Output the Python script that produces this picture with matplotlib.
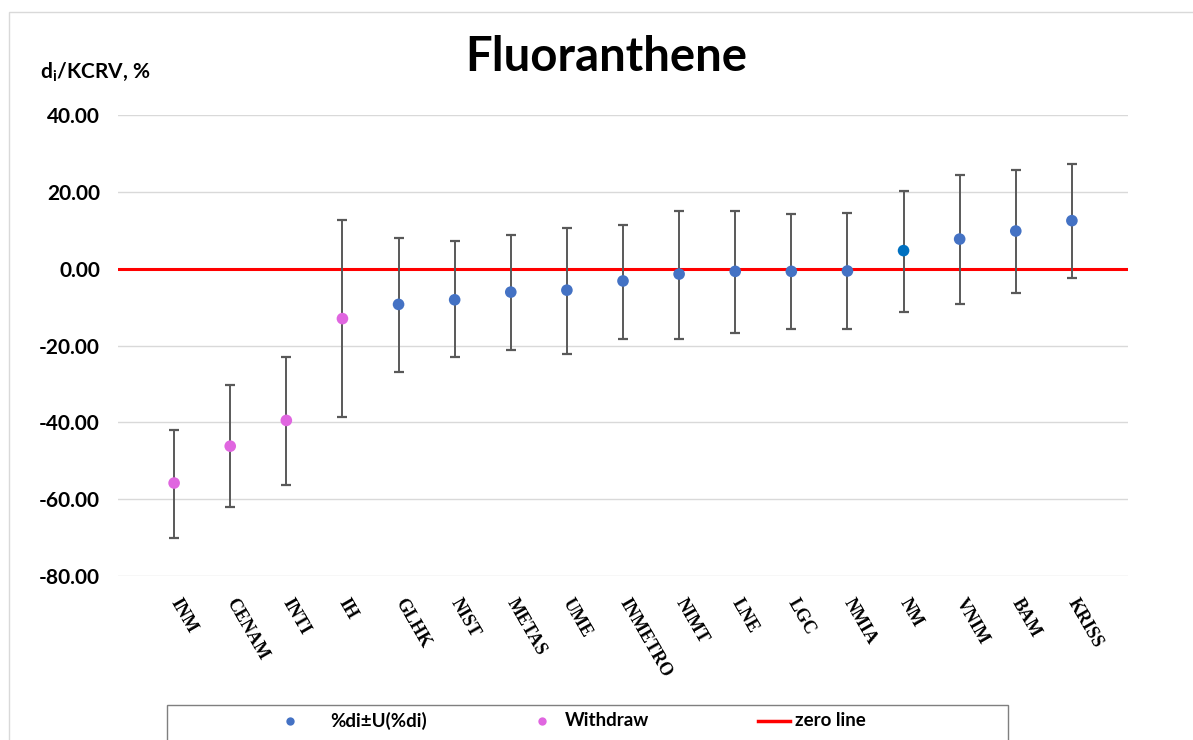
import matplotlib
matplotlib.use("Agg")
import matplotlib.pyplot as plt
from matplotlib.patches import Rectangle
from matplotlib.lines import Line2D

labs = ["INM", "CENAM", "INTI", "IH", "GLHK", "NIST", "METAS", "UME", "INMETRO",
        "NIMT", "LNE", "LGC", "NMIA", "NM", "VNIM", "BAM", "KRISS"]
di = [-55.8, -46.2, -39.5, -13.0, -9.3, -8.1, -6.1, -5.6, -3.2,
      -1.4, -0.7, -0.7, -0.6, 4.7, 7.7, 9.8, 12.5]
upper = [-42.0, -30.4, -22.9, 12.6, 8.1, 7.1, 8.7, 10.7, 11.4,
         15.1, 15.1, 14.3, 14.6, 20.3, 24.3, 25.6, 27.3]
lower = [-70.1, -62.0, -56.2, -38.7, -26.8, -22.9, -21.2, -22.1, -18.3,
         -18.4, -16.7, -15.8, -15.7, -11.3, -9.3, -6.4, -2.5]
withdrawn = ["INM", "CENAM", "INTI", "IH"]
yticks = [-80, -60, -40, -20, 0, 20, 40]

BLUE = "#4472C4"
VIOLET = "#E066E0"
RED = "#FF0000"
GRAY = "#595959"

plt.rcParams['font.family'] = ['Lato', 'DejaVu Sans']
plt.rcParams['mathtext.fontset'] = 'custom'
plt.rcParams['mathtext.rm'] = 'Lato:bold'
plt.rcParams['mathtext.it'] = 'Lato:bold'

W, H = 1193, 740
fig = plt.figure(figsize=(W / 100, H / 100), dpi=100)
fig.patch.set_facecolor("white")

# outer chart frame
fig.patches.append(Rectangle((9 / W, -0.01), 1.0, 1 - 12 / H + 0.01, transform=fig.transFigure,
                             fill=False, edgecolor="#D9D9D9", linewidth=1.0))

ax = fig.add_axes([118 / W, 1 - 576 / H, (1128 - 118) / W, (576 - 115) / H])
ax.set_xlim(0, 18)
ax.set_ylim(-80, 40)
for s in ax.spines.values():
    s.set_visible(False)
ax.set_yticks(yticks)
ax.set_yticklabels([f"{v:.2f}" for v in yticks], fontsize=15, fontweight="bold")
ax.yaxis.grid(True, color="#D9D9D9", linewidth=1.0)
ax.set_axisbelow(True)
ax.tick_params(axis="y", length=0, pad=13)
ax.tick_params(axis="x", length=0, pad=17)

xs = list(range(1, len(labs) + 1))
ax.set_xticks(xs)
ax.set_xticklabels(labs, rotation=-60, ha="left", va="center", rotation_mode="anchor",
                   fontsize=13, fontweight="bold", family="Liberation Serif")

ax.axhline(0, color=RED, linewidth=2.2, zorder=2)

colors = [VIOLET if lab in withdrawn else ("#0070C0" if lab == "NM" else BLUE) for lab in labs]
yerr = [[v - lo for v, lo in zip(di, lower)], [hi - v for v, hi in zip(di, upper)]]
ax.errorbar(xs, di, yerr=yerr, fmt="none", ecolor=GRAY, elinewidth=1.4,
            capsize=3.5, capthick=1.6, zorder=3)
ax.scatter(xs, di, s=70, c=colors, linewidths=0, zorder=4)

fig.text(606 / W, 1 - 57 / H, "Fluoranthene", ha="center", va="center",
         fontsize=34, fontweight="bold")
fig.text(40 / W, 1 - 72 / H, r"d$_\mathrm{i}$/KCRV, %", ha="left", va="center",
         fontsize=15, fontweight="bold")

# legend box
fig.patches.append(Rectangle((167 / W, -0.02), (1008 - 167) / W, 0.02 + 1 - 705 / H,
                             transform=fig.transFigure, fill=False, edgecolor="#7F7F7F",
                             linewidth=1.0))
ly = 1 - 721 / H
fig.lines.append(Line2D([290 / W], [ly], transform=fig.transFigure, marker="o",
                        color=BLUE, markersize=6, markeredgewidth=0, linestyle="none"))
fig.text(330 / W, ly, "%di±U(%di)", ha="left", va="center", fontsize=13.5, fontweight="bold")
fig.lines.append(Line2D([542 / W], [ly], transform=fig.transFigure, marker="o",
                        color=VIOLET, markersize=6, markeredgewidth=0, linestyle="none"))
fig.text(565 / W, ly, "Withdraw", ha="left", va="center", fontsize=13.5, fontweight="bold")
fig.lines.append(Line2D([758 / W, 790 / W], [ly, ly], transform=fig.transFigure,
                        color=RED, linewidth=2.5))
fig.text(795 / W, ly, "zero line", ha="left", va="center", fontsize=13.5, fontweight="bold")

fig.savefig("out.png", dpi=100)
